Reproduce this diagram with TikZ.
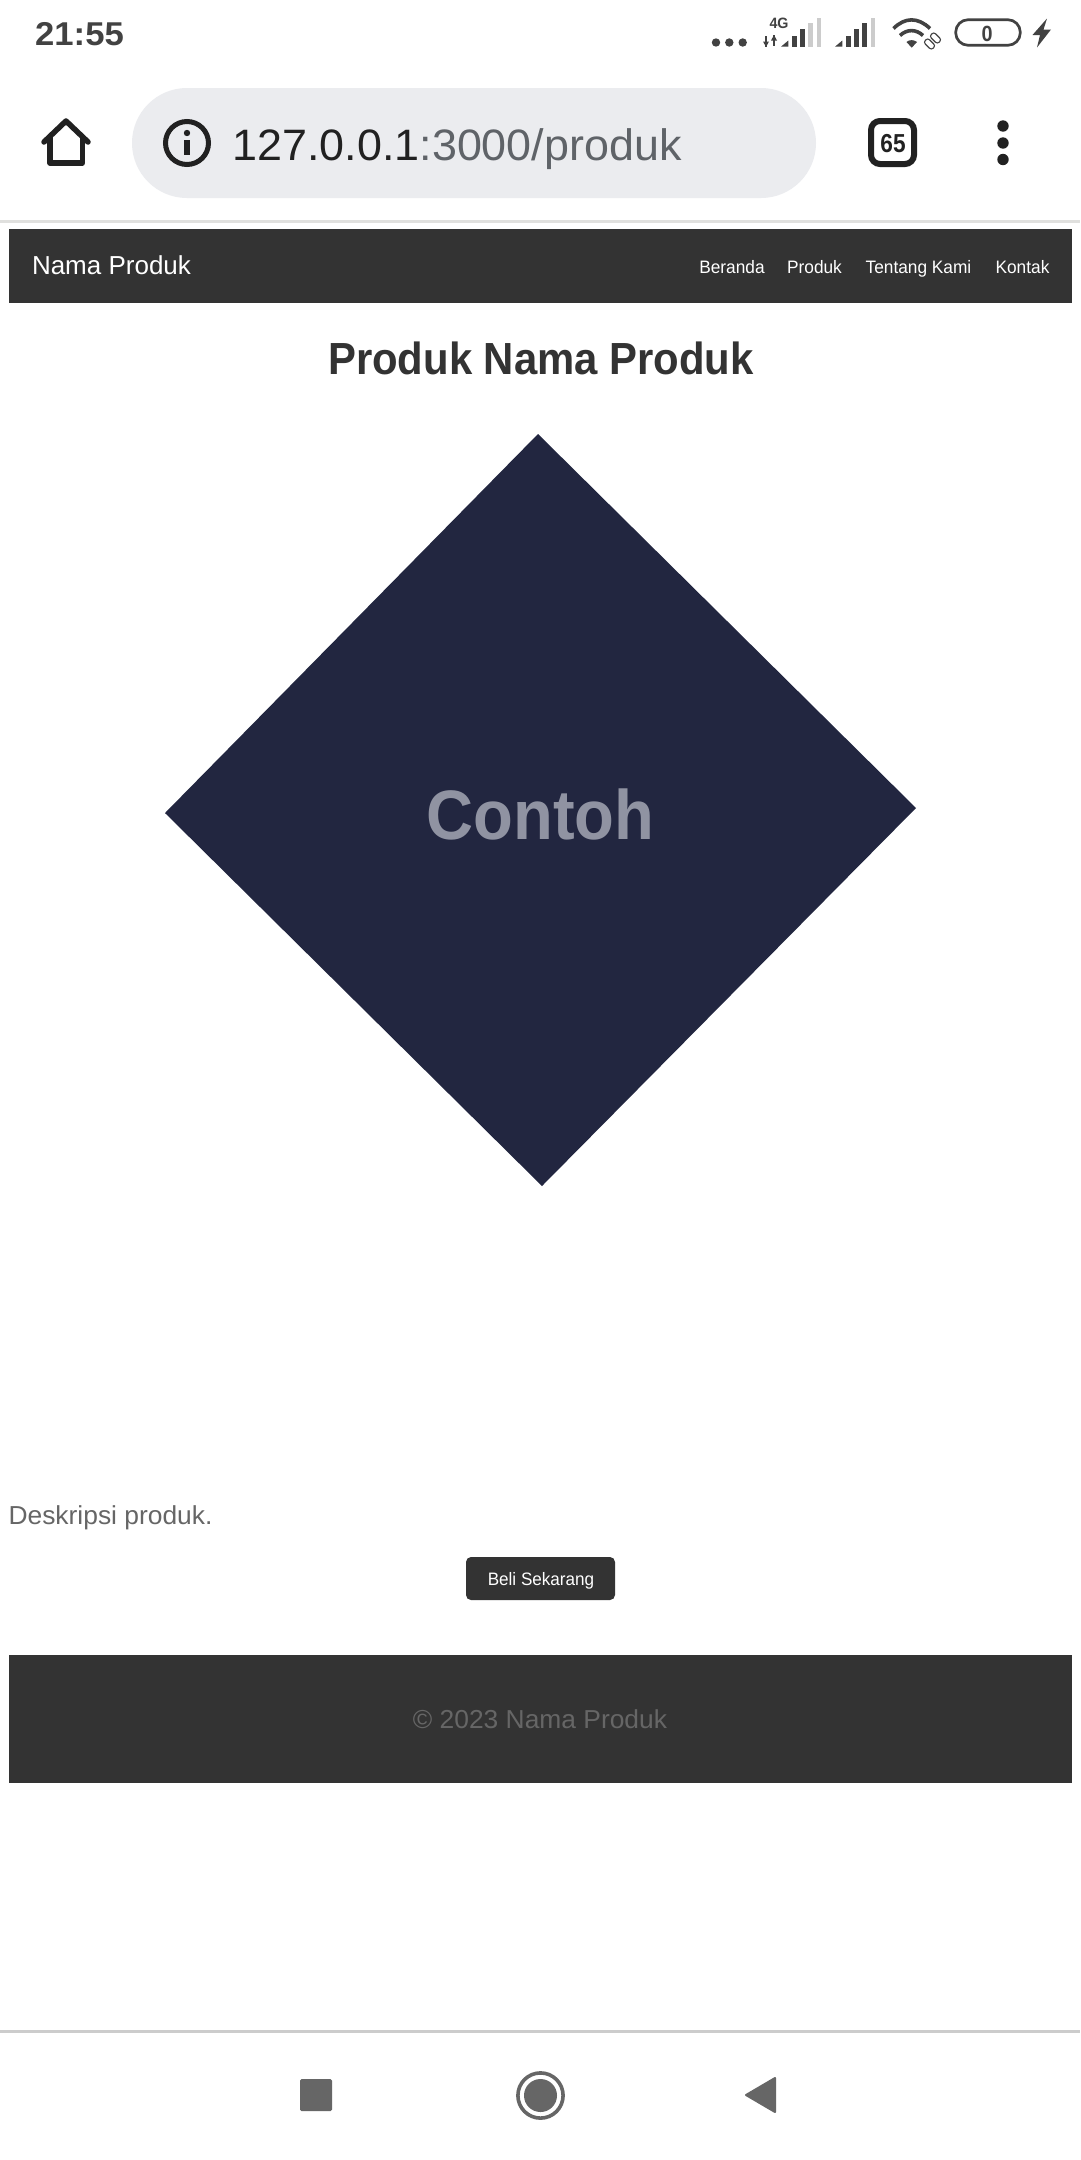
\documentclass[tikz,border=0pt]{standalone}
\usepackage{fontspec}
\setmainfont{Liberation Sans}
\definecolor{gelap}{HTML}{333333}
\definecolor{status}{HTML}{424242}
\definecolor{ikon}{HTML}{212121}
\definecolor{abu}{HTML}{666666}
\definecolor{pudar}{HTML}{CCCCCC}
\definecolor{pil}{HTML}{EBECEF}
\definecolor{garis}{HTML}{E0E0DE}
\definecolor{gambar}{HTML}{222640}
\definecolor{contoh}{HTML}{9093A2}
\definecolor{alamat}{HTML}{5F6368}
\tikzset{
  teks/.style={inner sep=0,anchor=base},
  sz/.style={font=\fontsize{#1}{#1}\selectfont},
  szb/.style={font=\fontsize{#1}{#1}\selectfont\bfseries},
  menu/.style={teks,sz=18,xscale=.96,text=white},
  rantai/.style={draw=status,line width=1.1,rounded corners=2.5,rotate=-45,minimum width=11,minimum height=6,inner sep=0}
}
\begin{document}
\begin{tikzpicture}[x=1pt,y=-1pt]
\fill[white] (0,0) rectangle (1080,2160);
\node (jam) [teks,szb=33,xscale=1.05,text=status] at (79.5,45) {21:55};
\fill[status] (716,42.5) circle [radius=4.2];
\fill[status] (729.3,42.5) circle [radius=4.2];
\fill[status] (742.7,42.5) circle [radius=4.2];
\node (empatg) [teks,szb=15,xscale=.95,text=status] at (779,28) {4G};
\fill[status] (765.2,36) rectangle (766.8,47);
\fill[status] (763,41.5) -- (769,41.5) -- (766,47) -- cycle;
\fill[status] (773.2,35) rectangle (774.8,46);
\fill[status] (771,40.5) -- (777,40.5) -- (774,35) -- cycle;
\fill[status] (781,46.7) -- (788.3,46.7) -- (788.3,40.5) -- cycle;
\fill[status] (791.7,36) rectangle (796.7,46.7);
\fill[status] (800,29) rectangle (805,46.7);
\fill[pudar] (808.3,23.3) rectangle (813.3,46.7);
\fill[pudar] (816.7,18.3) rectangle (821,46.7);
\fill[status] (835,46.7) -- (842.3,46.7) -- (842.3,40.5) -- cycle;
\fill[status] (845.7,36) rectangle (850.7,46.7);
\fill[status] (854,29) rectangle (859,46.7);
\fill[status] (862.3,23.3) rectangle (866.7,46.7);
\fill[pudar] (870.7,18.3) rectangle (875,46.7);
\draw[status,line width=3.6] (893.5,28.5) .. controls (905,17) and (918,17) .. (930,28.5);
\draw[status,line width=3.6] (900,35.5) .. controls (907,29) and (916,29) .. (923,35.5);
\fill[status] (906.5,42) .. controls (909,39.5) and (914,39.5) .. (917,42) -- (911.7,47.7) -- cycle;
\node (lnka) [rantai] at (929.5,44) {};
\node (lnkb) [rantai] at (935.5,38) {};
\draw[status,line width=2.7,rounded corners=12.5] (955.7,19.7) rectangle (1020.3,45.3);
\node (baterai) [teks,szb=22,xscale=.9,text=status] at (987,41) {0};
\fill[status] (1047,18.5) -- (1032.5,35) -- (1040,35) -- (1037,47.5) -- (1051,29.5) -- (1043.5,29.5) -- cycle;
\draw[ikon,line width=5.5,line cap=round,line join=round] (44,142) -- (66,121) -- (88,142);
\draw[ikon,line width=5.5,line join=round] (50,137) -- (50,163) -- (82.5,163) -- (82.5,137);
\fill[pil,rounded corners=55] (132,88) rectangle (816,198);
\draw[ikon,line width=5] (187,143) circle [radius=21.5];
\fill[ikon] (184.2,140) rectangle (189.8,155);
\fill[ikon] (187,133) circle [radius=3.2];
\node (url) [teks,sz=44,xscale=1.02,text=ikon] at (457,160) {127.0.0.1\textcolor{alamat}{:3000/produk}};
\draw[ikon,line width=6,rounded corners=9] (871,121) rectangle (914,164);
\node (tab) [teks,szb=26,xscale=.87,text=ikon] at (893,152) {65};
\fill[ikon] (1003,126) circle [radius=5.7];
\fill[ikon] (1003,143) circle [radius=5.7];
\fill[ikon] (1003,159.5) circle [radius=5.7];
\fill[garis] (0,220) rectangle (1080,223);
\fill[gelap] (9,228.5) rectangle (1072,303);
\node (merek) [teks,sz=26,text=white] at (111.5,274) {Nama Produk};
\node (beranda) [menu] at (732,273) {Beranda};
\node (produk) [menu] at (814.5,273) {Produk};
\node (tentang) [menu] at (918.5,273) {Tentang Kami};
\node (kontak) [menu] at (1022.5,273) {Kontak};
\node (judul) [teks,szb=45,xscale=.93,text=gelap] at (541,374) {Produk Nama Produk};
\fill[gambar] (538,434) -- (916,808) -- (542,1186) -- (165,813) -- cycle;
\node (gbr) [teks,szb=70,xscale=.93,text=contoh] at (540.5,839) {Contoh};
\node (deskripsi) [teks,sz=26,xscale=1.015,text=abu] at (110.5,1524) {Deskripsi produk.};
\fill[gelap,rounded corners=5] (466,1557) rectangle (615,1600);
\node (beli) [teks,sz=18,xscale=.95,text=white] at (541,1585) {Beli Sekarang};
\fill[gelap] (9,1655) rectangle (1072,1783);
\node (hakcipta) [teks,sz=26,xscale=1.015,text=abu] at (540,1728) {© 2023 Nama Produk};
\fill[pudar] (0,2030) rectangle (1080,2033);
\fill[abu,rounded corners=1.5] (300,2079) rectangle (332,2111);
\draw[abu,line width=3.6] (540.5,2095.5) circle [radius=22.6];
\fill[abu] (540.5,2095.5) circle [radius=16.5];
\fill[abu,draw=abu,line width=2,line join=round] (746,2095) -- (775,2078) -- (775,2112) -- cycle;
\end{tikzpicture}
\end{document}
